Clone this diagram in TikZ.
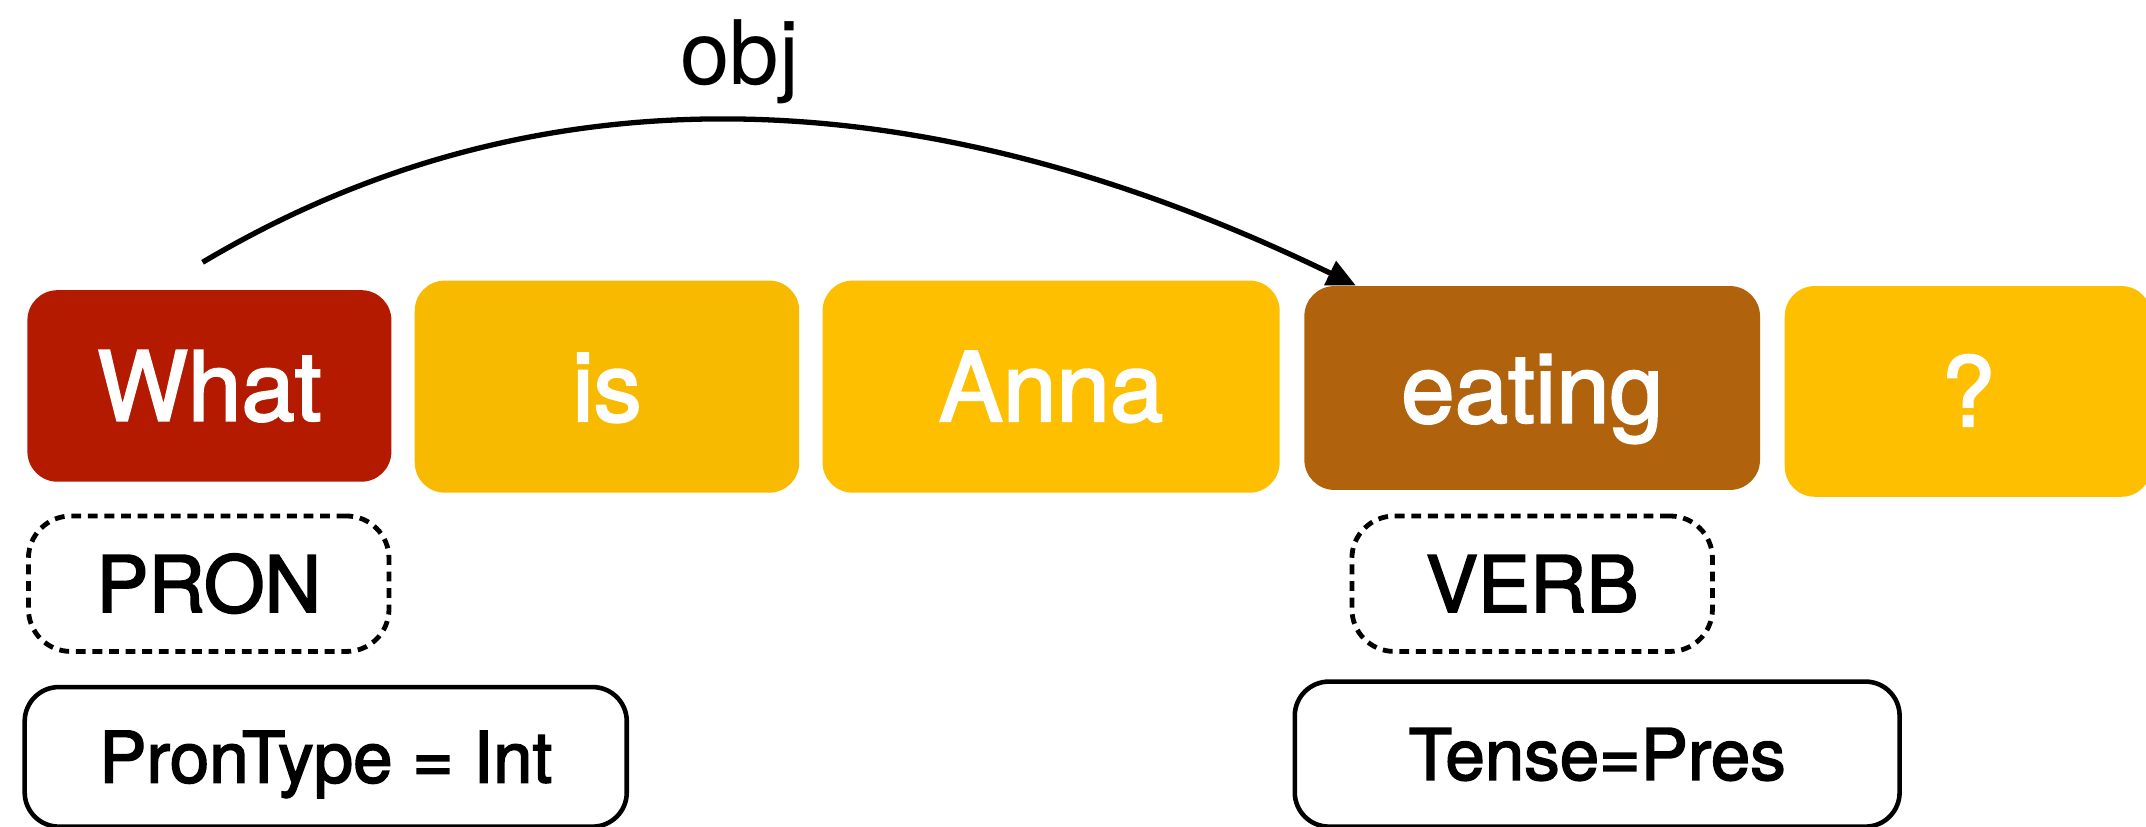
\documentclass[tikz,border=0pt]{standalone}
\usepackage{fontspec}
\setmainfont{TeX Gyre Heros}
\newfontfamily\boxfont{TeX Gyre Heros}[FakeBold=2.2]
\usetikzlibrary{arrows.meta}
\definecolor{whatred}{HTML}{B41A00}
\definecolor{isyellow}{HTML}{F8BA00}
\definecolor{wordyellow}{HTML}{FEBF00}
\definecolor{verbbrown}{HTML}{B0620C}
\begin{document}
\begin{tikzpicture}[x=0.02cm,y=-0.02cm,
        word/.style={rounded corners=0.44cm,inner sep=0pt,text=white,
            font=\boxfont\fontsize{40}{48}\selectfont,text height=1.01cm,text depth=0pt},
        upos/.style={draw,line width=2pt,dash pattern=on 4.1pt off 2.8pt,
            rounded corners=0.62cm,inner sep=0pt,minimum width=5.27cm,minimum height=1.98cm,
            font=\boxfont\fontsize{32.5}{38}\selectfont,text height=0.83cm,text depth=0pt},
        feats/.style={draw,line width=1.9pt,rounded corners=0.5cm,inner sep=0pt,
            font=\boxfont\fontsize{29.5}{36}\selectfont,text height=0.75cm,text depth=0pt},
        dep/.style={line width=2.2pt,-{Triangle[length=0.42cm,width=0.38cm]}}]
        \useasboundingbox (0,0) rectangle (1568,604);
        \node[word,fill=whatred,minimum width=5.32cm,minimum height=2.8cm] (what) at (153,282) {What};
        \node[word,fill=isyellow,minimum width=5.62cm,minimum height=3.1cm] (is) at (443.5,282.5) {is};
        \node[word,fill=wordyellow,minimum width=6.68cm,minimum height=3.1cm] (anna) at (768,282.5) {Anna};
        \node[word,fill=verbbrown,minimum width=6.66cm,minimum height=2.98cm] (eating) at (1119.5,283.5) {eating};
        \node[word,fill=wordyellow,minimum width=5.36cm,minimum height=3.08cm] (qmark) at (1438,286) {?};
        \node[upos] (pron) at (152.5,426.5) {PRON};
        \node[upos] (verb) at (1119.5,426.5) {VERB};
        \node[feats,minimum width=8.8cm,minimum height=2.04cm] (prontype) at (238,553) {PronType = Int};
        \node[feats,minimum width=8.84cm,minimum height=2.12cm] (tense) at (1167,551) {Tense=Pres};
        \coordinate (depstart) at ([xshift=-0.1cm,yshift=0.4cm]what.north);
        \coordinate (depend) at ([xshift=0.76cm]eating.north west);
        \draw[dep] (depstart) .. controls +(242,-144) and +(-319,-155) .. (depend)
            node[pos=0.5,above=0.2cm,inner sep=0pt,font=\fontsize{37}{44}\selectfont]{obj};
    \end{tikzpicture}
\end{document}
